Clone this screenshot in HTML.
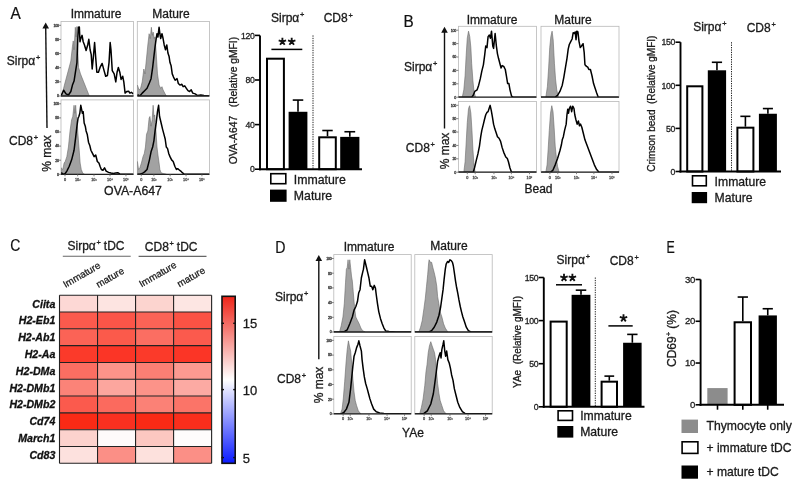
<!DOCTYPE html><html><head><meta charset="utf-8"><style>html,body{margin:0;padding:0;background:#fff;width:800px;height:486px;overflow:hidden}svg{display:block;will-change:transform}text{font-family:"Liberation Sans",sans-serif}</style></head><body><svg width="800" height="486" viewBox="0 0 800 486"><rect width="800" height="486" fill="#fff"/><text transform="translate(10.5,18.9) scale(0.92,1)" font-size="16.8" fill="#111" stroke="#111" stroke-width="0.2">A</text>
<text x="96" y="17.5" font-size="12" text-anchor="middle" font-weight="normal" font-style="normal" fill="#1a1a1a" stroke="#1a1a1a" stroke-width="0.3" >Immature</text>
<text x="171" y="17.8" font-size="12" text-anchor="middle" font-weight="normal" font-style="normal" fill="#1a1a1a" stroke="#1a1a1a" stroke-width="0.3" >Mature</text>
<text x="6.8" y="64.9" font-size="12" text-anchor="start" fill="#1a1a1a" stroke="#1a1a1a" stroke-width="0.3">Sirpα<tspan font-size="7.4" dx="0.8" dy="-4.8">+</tspan></text>
<text x="9" y="145.2" font-size="12" text-anchor="start" fill="#1a1a1a" stroke="#1a1a1a" stroke-width="0.3">CD8<tspan font-size="7.4" dx="0.8" dy="-4.8">+</tspan></text>
<line x1="45.7" y1="27.6" x2="47.0" y2="128" stroke="#111" stroke-width="1.4"/>
<polygon points="45.7,22.6 42.400000000000006,28.6 49.0,28.6" fill="#111"/>
<text transform="translate(51.3,153.5) rotate(-90)" font-size="12" text-anchor="middle" fill="#1a1a1a" stroke="#1a1a1a" stroke-width="0.3">% max</text>
<rect x="61.0" y="21.4" width="72.5" height="74.6" fill="#fff" stroke="#b8b8b8" stroke-width="0.8"/>
<clipPath id="cA11"><rect x="61.0" y="21.4" width="72.5" height="74.6"/></clipPath>
<g clip-path="url(#cA11)">
<polygon points="61.21,96.0 61.21,96.00 62.82,91.51 64.42,85.09 67.63,73.05 70.84,61.01 72.45,46.56 73.25,40.94 74.05,49.77 75.34,27.30 76.14,36.93 76.94,26.50 77.74,49.77 78.55,67.43 80.47,73.85 83.68,81.87 86.89,89.90 89.30,96.00 89.30,96.0" fill="#a2a2a2" stroke="#6a6a6a" stroke-width="0.6"/>
<polyline points="61.21,95.52 63.62,90.22 66.03,93.91 68.43,95.04 70.84,91.51 72.45,85.09 74.05,81.07 75.66,70.64 76.94,62.61 77.74,40.14 78.39,27.30 79.35,26.98 79.99,41.75 80.79,38.54 82.08,35.33 83.20,41.75 84.48,44.96 86.09,50.57 87.70,44.96 88.82,39.34 90.10,49.77 91.23,54.59 92.19,69.03 93.31,57.80 94.60,42.55 95.72,57.80 96.84,72.24 98.45,72.24 100.05,67.43 102.14,63.42 104.07,70.64 105.67,76.26 107.44,75.45 109.04,62.61 110.17,42.55 110.97,49.77 112.25,70.64 114.18,73.85 115.78,81.87 117.07,72.24 118.35,67.43 119.80,72.24 121.08,79.47 122.69,76.26 123.81,81.87 125.09,93.11 126.70,91.51 128.63,91.18 129.91,93.11 131.35,92.31 133.12,93.91" fill="none" stroke="#000" stroke-width="1.5" stroke-linejoin="round"/>
</g>
<line x1="61.0" y1="96.0" x2="133.5" y2="96.0" stroke="#222" stroke-width="1.3"/>
<line x1="59.0" y1="96.00" x2="61.0" y2="96.00" stroke="#666" stroke-width="0.8"/>
<text x="58.7" y="97.3" font-size="3.6" text-anchor="end" font-weight="normal" font-style="normal" fill="#444" stroke="#444" stroke-width="0.3" letter-spacing="-0.25">0</text>
<line x1="59.0" y1="81.86" x2="61.0" y2="81.86" stroke="#666" stroke-width="0.8"/>
<text x="58.7" y="83.16" font-size="3.6" text-anchor="end" font-weight="normal" font-style="normal" fill="#444" stroke="#444" stroke-width="0.3" letter-spacing="-0.25">20</text>
<line x1="59.0" y1="67.72" x2="61.0" y2="67.72" stroke="#666" stroke-width="0.8"/>
<text x="58.7" y="69.02" font-size="3.6" text-anchor="end" font-weight="normal" font-style="normal" fill="#444" stroke="#444" stroke-width="0.3" letter-spacing="-0.25">40</text>
<line x1="59.0" y1="53.58" x2="61.0" y2="53.58" stroke="#666" stroke-width="0.8"/>
<text x="58.7" y="54.879999999999995" font-size="3.6" text-anchor="end" font-weight="normal" font-style="normal" fill="#444" stroke="#444" stroke-width="0.3" letter-spacing="-0.25">60</text>
<line x1="59.0" y1="39.44" x2="61.0" y2="39.44" stroke="#666" stroke-width="0.8"/>
<text x="58.7" y="40.739999999999995" font-size="3.6" text-anchor="end" font-weight="normal" font-style="normal" fill="#444" stroke="#444" stroke-width="0.3" letter-spacing="-0.25">80</text>
<line x1="59.0" y1="25.30" x2="61.0" y2="25.30" stroke="#666" stroke-width="0.8"/>
<text x="58.7" y="26.599999999999998" font-size="3.6" text-anchor="end" font-weight="normal" font-style="normal" fill="#444" stroke="#444" stroke-width="0.3" letter-spacing="-0.25">100</text>
<rect x="137.3" y="21.4" width="72.1" height="74.6" fill="#fff" stroke="#b8b8b8" stroke-width="0.8"/>
<clipPath id="cA12"><rect x="137.3" y="21.4" width="72.1" height="74.6"/></clipPath>
<g clip-path="url(#cA12)">
<polygon points="137.41,96.0 137.41,85.09 139.01,89.90 140.62,88.30 142.22,81.87 143.83,69.03 144.95,73.85 146.24,61.01 147.84,44.96 149.13,33.72 150.25,38.54 151.37,27.30 152.34,35.33 153.14,32.12 154.26,38.54 155.06,36.93 156.19,52.98 157.47,73.85 159.08,85.09 160.68,88.30 161.97,86.69 163.09,89.90 164.70,93.11 166.30,96.00 166.30,96.0" fill="#a2a2a2" stroke="#6a6a6a" stroke-width="0.6"/>
<polyline points="137.41,94.72 139.82,96.00 142.22,93.11 144.63,90.70 147.04,88.30 149.45,82.68 151.05,78.66 152.66,67.43 153.94,56.19 155.06,46.56 156.19,38.54 156.99,33.72 157.95,36.93 159.08,27.30 159.88,33.72 160.68,38.54 161.97,33.72 163.09,38.54 164.21,44.96 165.50,49.77 166.78,44.96 167.91,52.98 169.03,56.19 169.99,62.61 171.12,65.82 172.24,73.85 173.52,77.06 175.13,80.27 177.05,78.66 178.34,83.48 179.94,85.09 181.87,84.28 183.15,86.69 184.76,85.89 186.36,88.30 187.97,90.70 189.57,91.51 191.18,89.90 192.78,93.11 195.19,93.91 197.60,95.52 200.81,95.04 204.02,95.52 209.32,96.00" fill="none" stroke="#000" stroke-width="1.5" stroke-linejoin="round"/>
</g>
<line x1="137.3" y1="96.0" x2="209.4" y2="96.0" stroke="#222" stroke-width="1.3"/>
<rect x="61.0" y="99.9" width="72.5" height="74.4" fill="#fff" stroke="#b8b8b8" stroke-width="0.8"/>
<clipPath id="cA21"><rect x="61.0" y="99.9" width="72.5" height="74.4"/></clipPath>
<g clip-path="url(#cA21)">
<polygon points="61.21,174.3 61.21,167.88 62.82,169.48 64.10,163.06 65.22,161.46 66.83,156.64 68.43,147.01 70.04,130.96 71.64,119.73 72.77,116.52 74.05,105.28 74.85,113.30 75.66,105.28 76.46,116.52 77.26,124.54 78.06,135.78 79.19,150.22 80.15,163.06 81.27,169.48 82.88,173.50 84.48,174.30 84.48,174.3" fill="#a2a2a2" stroke="#6a6a6a" stroke-width="0.6"/>
<polyline points="61.21,172.69 63.62,174.30 65.22,173.50 66.83,171.09 69.24,166.27 71.64,159.85 74.05,150.22 75.66,137.38 76.94,126.15 78.06,118.12 78.87,116.52 79.83,113.30 80.79,105.28 81.76,110.09 82.40,113.30 83.20,111.70 84.16,122.94 85.29,126.15 86.09,130.96 87.21,134.17 88.50,142.20 89.78,145.41 90.91,150.22 92.51,153.43 94.12,156.64 95.72,155.04 97.33,161.46 98.93,163.06 100.05,166.27 101.34,169.48 102.94,170.29 104.55,167.88 106.15,171.09 108.56,172.37 110.97,173.02 113.38,173.50 115.78,173.02 117.71,172.69 119.80,173.98 125.42,174.30 133.44,174.30" fill="none" stroke="#000" stroke-width="1.5" stroke-linejoin="round"/>
</g>
<line x1="61.0" y1="174.3" x2="133.5" y2="174.3" stroke="#222" stroke-width="1.3"/>
<line x1="59.0" y1="174.30" x2="61.0" y2="174.30" stroke="#666" stroke-width="0.8"/>
<text x="58.7" y="175.60000000000002" font-size="3.6" text-anchor="end" font-weight="normal" font-style="normal" fill="#444" stroke="#444" stroke-width="0.3" letter-spacing="-0.25">0</text>
<line x1="59.0" y1="160.20" x2="61.0" y2="160.20" stroke="#666" stroke-width="0.8"/>
<text x="58.7" y="161.50000000000003" font-size="3.6" text-anchor="end" font-weight="normal" font-style="normal" fill="#444" stroke="#444" stroke-width="0.3" letter-spacing="-0.25">20</text>
<line x1="59.0" y1="146.10" x2="61.0" y2="146.10" stroke="#666" stroke-width="0.8"/>
<text x="58.7" y="147.40000000000003" font-size="3.6" text-anchor="end" font-weight="normal" font-style="normal" fill="#444" stroke="#444" stroke-width="0.3" letter-spacing="-0.25">40</text>
<line x1="59.0" y1="132.00" x2="61.0" y2="132.00" stroke="#666" stroke-width="0.8"/>
<text x="58.7" y="133.3" font-size="3.6" text-anchor="end" font-weight="normal" font-style="normal" fill="#444" stroke="#444" stroke-width="0.3" letter-spacing="-0.25">60</text>
<line x1="59.0" y1="117.90" x2="61.0" y2="117.90" stroke="#666" stroke-width="0.8"/>
<text x="58.7" y="119.2" font-size="3.6" text-anchor="end" font-weight="normal" font-style="normal" fill="#444" stroke="#444" stroke-width="0.3" letter-spacing="-0.25">80</text>
<line x1="59.0" y1="103.80" x2="61.0" y2="103.80" stroke="#666" stroke-width="0.8"/>
<text x="58.7" y="105.10000000000001" font-size="3.6" text-anchor="end" font-weight="normal" font-style="normal" fill="#444" stroke="#444" stroke-width="0.3" letter-spacing="-0.25">100</text>
<line x1="64.99" y1="174.3" x2="64.99" y2="176.3" stroke="#666" stroke-width="0.8"/>
<text x="64.9875" y="180.8" font-size="3.8" text-anchor="middle" font-weight="normal" font-style="normal" fill="#555" stroke="#555" stroke-width="0.3" >0</text>
<line x1="77.67" y1="174.3" x2="77.67" y2="176.3" stroke="#666" stroke-width="0.8"/>
<text x="77.675" y="180.8" font-size="3.8" text-anchor="middle" font-weight="normal" font-style="normal" fill="#555" stroke="#555" stroke-width="0.3" >10²</text>
<line x1="93.99" y1="174.3" x2="93.99" y2="176.3" stroke="#666" stroke-width="0.8"/>
<text x="93.98750000000001" y="180.8" font-size="3.8" text-anchor="middle" font-weight="normal" font-style="normal" fill="#555" stroke="#555" stroke-width="0.3" >10³</text>
<line x1="110.01" y1="174.3" x2="110.01" y2="176.3" stroke="#666" stroke-width="0.8"/>
<text x="110.01" y="180.8" font-size="3.8" text-anchor="middle" font-weight="normal" font-style="normal" fill="#555" stroke="#555" stroke-width="0.3" >10⁴</text>
<line x1="125.96" y1="174.3" x2="125.96" y2="176.3" stroke="#666" stroke-width="0.8"/>
<text x="125.96000000000001" y="180.8" font-size="3.8" text-anchor="middle" font-weight="normal" font-style="normal" fill="#555" stroke="#555" stroke-width="0.3" >10⁵</text>
<rect x="137.3" y="99.9" width="72.1" height="74.4" fill="#fff" stroke="#b8b8b8" stroke-width="0.8"/>
<clipPath id="cA22"><rect x="137.3" y="99.9" width="72.1" height="74.4"/></clipPath>
<g clip-path="url(#cA22)">
<polygon points="137.41,174.3 137.41,161.46 138.53,169.48 139.82,167.88 141.42,163.06 143.03,156.64 144.31,153.43 145.43,147.01 146.56,134.17 147.84,130.96 149.13,118.12 149.93,116.52 151.05,126.15 152.17,119.73 153.14,105.28 153.94,116.52 154.74,114.91 155.87,129.36 156.99,147.01 157.95,155.04 159.08,163.06 159.88,169.48 161.00,172.69 163.09,173.50 166.30,174.30 166.30,174.3" fill="#a2a2a2" stroke="#6a6a6a" stroke-width="0.6"/>
<polyline points="137.41,174.30 139.82,174.30 142.22,173.50 144.63,171.89 147.04,169.48 149.45,159.85 151.05,151.83 152.66,147.01 153.94,140.59 155.06,130.96 156.19,122.94 157.47,111.70 158.60,105.28 159.56,116.52 160.36,119.73 161.48,124.54 162.61,129.36 163.89,134.17 165.18,138.99 166.30,147.01 167.58,148.62 168.71,153.43 169.99,156.64 171.60,159.85 173.20,161.46 174.81,166.27 176.41,169.48 177.54,168.68 178.66,169.48 180.75,171.09 182.35,172.69 183.96,173.98 187.97,174.30 209.32,174.30" fill="none" stroke="#000" stroke-width="1.5" stroke-linejoin="round"/>
</g>
<line x1="137.3" y1="174.3" x2="209.4" y2="174.3" stroke="#222" stroke-width="1.3"/>
<line x1="141.27" y1="174.3" x2="141.27" y2="176.3" stroke="#666" stroke-width="0.8"/>
<text x="141.2655" y="180.8" font-size="3.8" text-anchor="middle" font-weight="normal" font-style="normal" fill="#555" stroke="#555" stroke-width="0.3" >0</text>
<line x1="153.88" y1="174.3" x2="153.88" y2="176.3" stroke="#666" stroke-width="0.8"/>
<text x="153.883" y="180.8" font-size="3.8" text-anchor="middle" font-weight="normal" font-style="normal" fill="#555" stroke="#555" stroke-width="0.3" >10²</text>
<line x1="170.11" y1="174.3" x2="170.11" y2="176.3" stroke="#666" stroke-width="0.8"/>
<text x="170.1055" y="180.8" font-size="3.8" text-anchor="middle" font-weight="normal" font-style="normal" fill="#555" stroke="#555" stroke-width="0.3" >10³</text>
<line x1="186.04" y1="174.3" x2="186.04" y2="176.3" stroke="#666" stroke-width="0.8"/>
<text x="186.0396" y="180.8" font-size="3.8" text-anchor="middle" font-weight="normal" font-style="normal" fill="#555" stroke="#555" stroke-width="0.3" >10⁴</text>
<line x1="201.90" y1="174.3" x2="201.90" y2="176.3" stroke="#666" stroke-width="0.8"/>
<text x="201.9016" y="180.8" font-size="3.8" text-anchor="middle" font-weight="normal" font-style="normal" fill="#555" stroke="#555" stroke-width="0.3" >10⁵</text>
<text x="133" y="195.3" font-size="12.3" text-anchor="middle" font-weight="normal" font-style="normal" fill="#1a1a1a" stroke="#1a1a1a" stroke-width="0.3" >OVA-A647</text>
<rect x="267.00" y="58.70" width="16.90" height="110.50" fill="#fff" stroke="#000" stroke-width="2.0"/>
<line x1="298.0" y1="111.7775" x2="298.0" y2="100.07" stroke="#000" stroke-width="1.6"/>
<line x1="292.74" y1="100.07" x2="303.26" y2="100.07" stroke="#000" stroke-width="1.6"/>
<rect x="288.6" y="111.78" width="18.80" height="57.42" fill="#000"/>
<line x1="327.5" y1="136.3075" x2="327.5" y2="130.51" stroke="#000" stroke-width="1.6"/>
<line x1="322.29" y1="130.51" x2="332.71" y2="130.51" stroke="#000" stroke-width="1.6"/>
<rect x="319.20" y="137.31" width="16.60" height="31.89" fill="#fff" stroke="#000" stroke-width="2.0"/>
<line x1="349.8" y1="136.865" x2="349.8" y2="131.74" stroke="#000" stroke-width="1.6"/>
<line x1="344.42" y1="131.74" x2="355.18" y2="131.74" stroke="#000" stroke-width="1.6"/>
<rect x="340.20000000000005" y="136.87" width="19.20" height="32.33" fill="#000"/>
<line x1="313" y1="35.400000000000006" x2="313" y2="169.2" stroke="#222" stroke-width="1.0" stroke-dasharray="1.3,1.1"/>
<line x1="260" y1="35.40" x2="260" y2="170.2" stroke="#000" stroke-width="1.9"/>
<line x1="259" y1="169.2" x2="362" y2="169.2" stroke="#000" stroke-width="1.9"/>
<line x1="255" y1="169.20" x2="260" y2="169.20" stroke="#000" stroke-width="1.6"/>
<text x="254.5" y="172.39999999999998" font-size="8.7" text-anchor="end" font-weight="normal" font-style="normal" fill="#222" stroke="#222" stroke-width="0.3" letter-spacing="-0.3">0</text>
<line x1="255" y1="124.60" x2="260" y2="124.60" stroke="#000" stroke-width="1.6"/>
<text x="254.5" y="127.8" font-size="8.7" text-anchor="end" font-weight="normal" font-style="normal" fill="#222" stroke="#222" stroke-width="0.3" letter-spacing="-0.3">40</text>
<line x1="255" y1="80.00" x2="260" y2="80.00" stroke="#000" stroke-width="1.6"/>
<text x="254.5" y="83.2" font-size="8.7" text-anchor="end" font-weight="normal" font-style="normal" fill="#222" stroke="#222" stroke-width="0.3" letter-spacing="-0.3">80</text>
<line x1="255" y1="35.40" x2="260" y2="35.40" stroke="#000" stroke-width="1.6"/>
<text x="254.5" y="38.60000000000001" font-size="8.7" text-anchor="end" font-weight="normal" font-style="normal" fill="#222" stroke="#222" stroke-width="0.3" letter-spacing="-0.3">120</text>
<text transform="translate(236.6,164.3) rotate(-90)" font-size="10.3" text-anchor="start" fill="#1a1a1a" stroke="#1a1a1a" stroke-width="0.3">OVA-A647&#160;&#160;&#160;(Relative gMFI)</text>
<text x="271" y="21.6" font-size="12" text-anchor="start" fill="#1a1a1a" stroke="#1a1a1a" stroke-width="0.3">Sirpα<tspan font-size="7.4" dx="0.8" dy="-4.8">+</tspan></text>
<text x="323.7" y="22.3" font-size="12" text-anchor="start" fill="#1a1a1a" stroke="#1a1a1a" stroke-width="0.3">CD8<tspan font-size="7.4" dx="0.8" dy="-4.8">+</tspan></text>
<path d="M282.40,41.60L282.40,37.70M282.40,41.60L286.11,40.39M282.40,41.60L284.69,44.76M282.40,41.60L280.11,44.76M282.40,41.60L278.69,40.39" stroke="#111" stroke-width="1.85" stroke-linecap="butt" fill="none"/>
<path d="M291.70,41.60L291.70,37.70M291.70,41.60L295.41,40.39M291.70,41.60L293.99,44.76M291.70,41.60L289.41,44.76M291.70,41.60L287.99,40.39" stroke="#111" stroke-width="1.85" stroke-linecap="butt" fill="none"/>
<line x1="271.4" y1="49.4" x2="302.3" y2="49.4" stroke="#000" stroke-width="1.5"/>
<rect x="270.8" y="173.70000000000002" width="15.000000000000002" height="10.0" fill="#fff" stroke="#000" stroke-width="1.6"/>
<text x="293.8" y="183.5" font-size="12.3" text-anchor="start" font-weight="normal" font-style="normal" fill="#1a1a1a" stroke="#1a1a1a" stroke-width="0.3" >Immature</text>
<rect x="270.0" y="189.6" width="16.6" height="12.2" fill="black"/>
<text x="293.8" y="200.2" font-size="12.3" text-anchor="start" font-weight="normal" font-style="normal" fill="#1a1a1a" stroke="#1a1a1a" stroke-width="0.3" >Mature</text>
<text transform="translate(403.6,26.8) scale(0.94,1)" font-size="16.3" fill="#111" stroke="#111" stroke-width="0.2">B</text>
<text x="492" y="24.3" font-size="12" text-anchor="middle" font-weight="normal" font-style="normal" fill="#1a1a1a" stroke="#1a1a1a" stroke-width="0.3" >Immature</text>
<text x="573" y="24" font-size="12" text-anchor="middle" font-weight="normal" font-style="normal" fill="#1a1a1a" stroke="#1a1a1a" stroke-width="0.3" >Mature</text>
<text x="404" y="70.5" font-size="12" text-anchor="start" fill="#1a1a1a" stroke="#1a1a1a" stroke-width="0.3">Sirpα<tspan font-size="7.4" dx="0.8" dy="-4.8">+</tspan></text>
<text x="405.8" y="151.5" font-size="12" text-anchor="start" fill="#1a1a1a" stroke="#1a1a1a" stroke-width="0.3">CD8<tspan font-size="7.4" dx="0.8" dy="-4.8">+</tspan></text>
<line x1="444.5" y1="31.7" x2="444.5" y2="128.5" stroke="#111" stroke-width="1.4"/>
<polygon points="444.5,26.7 441.2,32.7 447.8,32.7" fill="#111"/>
<text transform="translate(449,151) rotate(-90)" font-size="12" text-anchor="middle" fill="#1a1a1a" stroke="#1a1a1a" stroke-width="0.3">% max</text>
<rect x="458.4" y="26.3" width="78.10000000000002" height="70.9" fill="#fff" stroke="#b8b8b8" stroke-width="0.8"/>
<clipPath id="cB11"><rect x="458.4" y="26.3" width="78.10000000000002" height="70.9"/></clipPath>
<g clip-path="url(#cB11)">
<polygon points="462.26,97.2 462.26,97.20 463.82,89.84 465.08,75.76 466.17,55.42 467.27,38.20 468.52,31.16 469.77,36.64 470.87,47.59 471.65,63.24 472.90,80.46 474.00,91.41 475.56,97.20 475.56,97.2" fill="#a2a2a2" stroke="#6a6a6a" stroke-width="0.6"/>
<polyline points="458.40,97.20 471.65,97.20 473.21,95.32 474.78,91.41 477.13,89.84 478.69,85.15 480.26,78.89 481.82,71.07 483.39,64.81 484.64,55.42 485.73,46.03 486.99,47.59 488.08,36.64 489.33,35.07 490.43,38.20 491.52,31.16 492.78,46.03 493.56,48.37 495.12,33.51 496.38,46.03 497.47,53.85 498.57,58.55 499.82,63.24 501.07,67.94 502.17,65.59 503.73,66.37 505.30,69.50 506.39,75.76 507.64,83.58 508.90,83.58 509.99,89.84 511.56,96.10 513.12,97.20 536.13,97.20" fill="none" stroke="#000" stroke-width="1.5" stroke-linejoin="round"/>
</g>
<line x1="458.4" y1="97.2" x2="536.5" y2="97.2" stroke="#222" stroke-width="1.3"/>
<line x1="456.4" y1="97.20" x2="458.4" y2="97.20" stroke="#666" stroke-width="0.8"/>
<text x="456.09999999999997" y="98.5" font-size="3.6" text-anchor="end" font-weight="normal" font-style="normal" fill="#444" stroke="#444" stroke-width="0.3" letter-spacing="-0.25">0</text>
<line x1="456.4" y1="83.80" x2="458.4" y2="83.80" stroke="#666" stroke-width="0.8"/>
<text x="456.09999999999997" y="85.1" font-size="3.6" text-anchor="end" font-weight="normal" font-style="normal" fill="#444" stroke="#444" stroke-width="0.3" letter-spacing="-0.25">20</text>
<line x1="456.4" y1="70.40" x2="458.4" y2="70.40" stroke="#666" stroke-width="0.8"/>
<text x="456.09999999999997" y="71.7" font-size="3.6" text-anchor="end" font-weight="normal" font-style="normal" fill="#444" stroke="#444" stroke-width="0.3" letter-spacing="-0.25">40</text>
<line x1="456.4" y1="57.00" x2="458.4" y2="57.00" stroke="#666" stroke-width="0.8"/>
<text x="456.09999999999997" y="58.300000000000004" font-size="3.6" text-anchor="end" font-weight="normal" font-style="normal" fill="#444" stroke="#444" stroke-width="0.3" letter-spacing="-0.25">60</text>
<line x1="456.4" y1="43.60" x2="458.4" y2="43.60" stroke="#666" stroke-width="0.8"/>
<text x="456.09999999999997" y="44.9" font-size="3.6" text-anchor="end" font-weight="normal" font-style="normal" fill="#444" stroke="#444" stroke-width="0.3" letter-spacing="-0.25">80</text>
<line x1="456.4" y1="30.20" x2="458.4" y2="30.20" stroke="#666" stroke-width="0.8"/>
<text x="456.09999999999997" y="31.500000000000004" font-size="3.6" text-anchor="end" font-weight="normal" font-style="normal" fill="#444" stroke="#444" stroke-width="0.3" letter-spacing="-0.25">100</text>
<rect x="541.0" y="26.3" width="78.0" height="70.9" fill="#fff" stroke="#b8b8b8" stroke-width="0.8"/>
<clipPath id="cB12"><rect x="541.0" y="26.3" width="78.0" height="70.9"/></clipPath>
<g clip-path="url(#cB12)">
<polygon points="545.82,97.2 545.82,97.20 547.39,86.71 548.64,67.94 549.74,47.59 550.83,36.64 552.08,31.16 553.18,39.77 554.43,63.24 555.53,78.89 556.78,89.84 558.34,97.20 558.34,97.2" fill="#a2a2a2" stroke="#6a6a6a" stroke-width="0.6"/>
<polyline points="541.00,97.20 555.21,97.20 557.56,95.32 559.91,91.41 562.26,85.15 563.82,77.33 565.39,67.94 566.95,58.55 568.20,49.16 569.30,44.46 570.86,41.33 572.12,38.98 573.21,32.72 574.31,33.51 575.25,31.94 576.03,39.77 576.81,31.16 577.91,31.94 579.00,41.33 580.25,47.59 581.51,46.03 583.07,43.68 584.17,52.29 584.95,64.81 586.51,66.37 587.77,67.15 588.86,69.50 590.43,69.50 591.99,75.76 593.56,83.58 595.12,88.28 596.69,92.97 598.25,97.20 618.59,97.20" fill="none" stroke="#000" stroke-width="1.5" stroke-linejoin="round"/>
</g>
<line x1="541.0" y1="97.2" x2="619.0" y2="97.2" stroke="#222" stroke-width="1.3"/>
<rect x="458.4" y="101.4" width="78.10000000000002" height="70.79999999999998" fill="#fff" stroke="#b8b8b8" stroke-width="0.8"/>
<clipPath id="cB21"><rect x="458.4" y="101.4" width="78.10000000000002" height="70.79999999999998"/></clipPath>
<g clip-path="url(#cB21)">
<polygon points="463.82,172.2 463.82,172.20 465.08,161.71 466.17,142.94 467.27,122.59 468.52,108.51 469.62,105.69 470.87,113.20 471.96,130.42 472.90,149.20 474.00,164.84 475.09,172.20 475.09,172.2" fill="#a2a2a2" stroke="#6a6a6a" stroke-width="0.6"/>
<polyline points="458.40,172.20 473.21,172.20 474.47,167.97 476.34,160.15 477.91,153.89 479.47,146.07 480.73,136.68 481.82,130.42 483.39,124.16 484.48,119.46 485.73,114.77 486.99,112.42 488.08,111.64 489.33,107.72 490.12,105.38 491.21,110.07 492.31,116.33 493.56,124.16 494.81,128.85 495.91,131.98 497.47,136.68 499.04,138.24 500.60,141.37 502.17,147.63 503.73,152.33 505.77,157.02 507.33,158.58 508.43,161.71 509.99,167.97 511.56,172.20 536.50,172.20" fill="none" stroke="#000" stroke-width="1.5" stroke-linejoin="round"/>
</g>
<line x1="458.4" y1="172.2" x2="536.5" y2="172.2" stroke="#222" stroke-width="1.3"/>
<line x1="456.4" y1="172.20" x2="458.4" y2="172.20" stroke="#666" stroke-width="0.8"/>
<text x="456.09999999999997" y="173.5" font-size="3.6" text-anchor="end" font-weight="normal" font-style="normal" fill="#444" stroke="#444" stroke-width="0.3" letter-spacing="-0.25">0</text>
<line x1="456.4" y1="158.82" x2="458.4" y2="158.82" stroke="#666" stroke-width="0.8"/>
<text x="456.09999999999997" y="160.12" font-size="3.6" text-anchor="end" font-weight="normal" font-style="normal" fill="#444" stroke="#444" stroke-width="0.3" letter-spacing="-0.25">20</text>
<line x1="456.4" y1="145.44" x2="458.4" y2="145.44" stroke="#666" stroke-width="0.8"/>
<text x="456.09999999999997" y="146.74" font-size="3.6" text-anchor="end" font-weight="normal" font-style="normal" fill="#444" stroke="#444" stroke-width="0.3" letter-spacing="-0.25">40</text>
<line x1="456.4" y1="132.06" x2="458.4" y2="132.06" stroke="#666" stroke-width="0.8"/>
<text x="456.09999999999997" y="133.36" font-size="3.6" text-anchor="end" font-weight="normal" font-style="normal" fill="#444" stroke="#444" stroke-width="0.3" letter-spacing="-0.25">60</text>
<line x1="456.4" y1="118.68" x2="458.4" y2="118.68" stroke="#666" stroke-width="0.8"/>
<text x="456.09999999999997" y="119.98" font-size="3.6" text-anchor="end" font-weight="normal" font-style="normal" fill="#444" stroke="#444" stroke-width="0.3" letter-spacing="-0.25">80</text>
<line x1="456.4" y1="105.30" x2="458.4" y2="105.30" stroke="#666" stroke-width="0.8"/>
<text x="456.09999999999997" y="106.60000000000001" font-size="3.6" text-anchor="end" font-weight="normal" font-style="normal" fill="#444" stroke="#444" stroke-width="0.3" letter-spacing="-0.25">100</text>
<line x1="467.30" y1="172.2" x2="467.30" y2="174.2" stroke="#666" stroke-width="0.8"/>
<text x="467.30339999999995" y="178.7" font-size="3.8" text-anchor="middle" font-weight="normal" font-style="normal" fill="#555" stroke="#555" stroke-width="0.3" >0</text>
<line x1="475.19" y1="172.2" x2="475.19" y2="174.2" stroke="#666" stroke-width="0.8"/>
<text x="475.19149999999996" y="178.7" font-size="3.8" text-anchor="middle" font-weight="normal" font-style="normal" fill="#555" stroke="#555" stroke-width="0.3" >10²</text>
<line x1="493.94" y1="172.2" x2="493.94" y2="174.2" stroke="#666" stroke-width="0.8"/>
<text x="493.9355" y="178.7" font-size="3.8" text-anchor="middle" font-weight="normal" font-style="normal" fill="#555" stroke="#555" stroke-width="0.3" >10³</text>
<line x1="511.35" y1="172.2" x2="511.35" y2="174.2" stroke="#666" stroke-width="0.8"/>
<text x="511.3518" y="178.7" font-size="3.8" text-anchor="middle" font-weight="normal" font-style="normal" fill="#555" stroke="#555" stroke-width="0.3" >10⁴</text>
<line x1="529.47" y1="172.2" x2="529.47" y2="174.2" stroke="#666" stroke-width="0.8"/>
<text x="529.471" y="178.7" font-size="3.8" text-anchor="middle" font-weight="normal" font-style="normal" fill="#555" stroke="#555" stroke-width="0.3" >10⁵</text>
<rect x="541.0" y="101.4" width="78.0" height="70.79999999999998" fill="#fff" stroke="#b8b8b8" stroke-width="0.8"/>
<clipPath id="cB22"><rect x="541.0" y="101.4" width="78.0" height="70.79999999999998"/></clipPath>
<g clip-path="url(#cB22)">
<polygon points="545.82,172.2 545.82,172.20 547.08,164.84 548.17,149.20 549.27,130.42 550.52,113.20 551.77,105.69 553.02,111.64 554.12,127.29 555.21,146.07 556.47,158.58 557.56,166.41 559.13,172.20 559.13,172.2" fill="#a2a2a2" stroke="#6a6a6a" stroke-width="0.6"/>
<polyline points="541.44,172.20 550.52,172.20 552.87,170.32 555.21,164.84 557.56,158.58 559.91,150.76 561.47,144.50 562.26,139.81 563.35,136.68 564.60,130.42 566.17,124.16 566.95,114.77 567.73,109.29 568.52,113.20 569.30,108.51 570.55,106.16 571.65,111.64 572.74,106.16 573.99,108.51 574.78,114.77 575.87,119.46 577.12,124.16 578.38,121.03 579.47,125.72 580.57,124.16 581.82,127.29 583.38,133.55 584.95,139.81 587.30,146.07 589.64,152.33 591.99,158.58 594.34,164.84 596.69,169.54 599.03,172.20 619.00,172.20" fill="none" stroke="#000" stroke-width="1.5" stroke-linejoin="round"/>
</g>
<line x1="541.0" y1="172.2" x2="619.0" y2="172.2" stroke="#222" stroke-width="1.3"/>
<line x1="549.89" y1="172.2" x2="549.89" y2="174.2" stroke="#666" stroke-width="0.8"/>
<text x="549.892" y="178.7" font-size="3.8" text-anchor="middle" font-weight="normal" font-style="normal" fill="#555" stroke="#555" stroke-width="0.3" >0</text>
<line x1="557.77" y1="172.2" x2="557.77" y2="174.2" stroke="#666" stroke-width="0.8"/>
<text x="557.77" y="178.7" font-size="3.8" text-anchor="middle" font-weight="normal" font-style="normal" fill="#555" stroke="#555" stroke-width="0.3" >10²</text>
<line x1="576.49" y1="172.2" x2="576.49" y2="174.2" stroke="#666" stroke-width="0.8"/>
<text x="576.49" y="178.7" font-size="3.8" text-anchor="middle" font-weight="normal" font-style="normal" fill="#555" stroke="#555" stroke-width="0.3" >10³</text>
<line x1="593.88" y1="172.2" x2="593.88" y2="174.2" stroke="#666" stroke-width="0.8"/>
<text x="593.884" y="178.7" font-size="3.8" text-anchor="middle" font-weight="normal" font-style="normal" fill="#555" stroke="#555" stroke-width="0.3" >10⁴</text>
<line x1="611.98" y1="172.2" x2="611.98" y2="174.2" stroke="#666" stroke-width="0.8"/>
<text x="611.98" y="178.7" font-size="3.8" text-anchor="middle" font-weight="normal" font-style="normal" fill="#555" stroke="#555" stroke-width="0.3" >10⁵</text>
<text x="538.5" y="192.5" font-size="12" text-anchor="middle" font-weight="normal" font-style="normal" fill="#1a1a1a" stroke="#1a1a1a" stroke-width="0.3" >Bead</text>
<rect x="687.20" y="86.30" width="15.20" height="85.20" fill="#fff" stroke="#000" stroke-width="2.0"/>
<line x1="716.95" y1="70.30119999999998" x2="716.95" y2="62.28" stroke="#000" stroke-width="1.6"/>
<line x1="711.83" y1="62.28" x2="722.07" y2="62.28" stroke="#000" stroke-width="1.6"/>
<rect x="707.8000000000001" y="70.30" width="18.30" height="101.20" fill="#000"/>
<line x1="745.4" y1="126.67599999999999" x2="745.4" y2="116.33" stroke="#000" stroke-width="1.6"/>
<line x1="740.36" y1="116.33" x2="750.44" y2="116.33" stroke="#000" stroke-width="1.6"/>
<rect x="737.40" y="127.68" width="16.00" height="43.82" fill="#fff" stroke="#000" stroke-width="2.0"/>
<line x1="767.9" y1="113.746" x2="767.9" y2="108.57" stroke="#000" stroke-width="1.6"/>
<line x1="762.86" y1="108.57" x2="772.94" y2="108.57" stroke="#000" stroke-width="1.6"/>
<rect x="758.9" y="113.75" width="18.00" height="57.75" fill="#000"/>
<line x1="731.5" y1="42.19999999999999" x2="731.5" y2="171.5" stroke="#222" stroke-width="1.0" stroke-dasharray="1.3,1.1"/>
<line x1="680.5" y1="42.20" x2="680.5" y2="172.5" stroke="#000" stroke-width="1.9"/>
<line x1="679.5" y1="171.5" x2="781" y2="171.5" stroke="#000" stroke-width="1.9"/>
<line x1="675.5" y1="171.50" x2="680.5" y2="171.50" stroke="#000" stroke-width="1.6"/>
<text x="675.0" y="174.7" font-size="8.7" text-anchor="end" font-weight="normal" font-style="normal" fill="#222" stroke="#222" stroke-width="0.3" letter-spacing="-0.3">0</text>
<line x1="675.5" y1="128.40" x2="680.5" y2="128.40" stroke="#000" stroke-width="1.6"/>
<text x="675.0" y="131.59999999999997" font-size="8.7" text-anchor="end" font-weight="normal" font-style="normal" fill="#222" stroke="#222" stroke-width="0.3" letter-spacing="-0.3">50</text>
<line x1="675.5" y1="85.30" x2="680.5" y2="85.30" stroke="#000" stroke-width="1.6"/>
<text x="675.0" y="88.49999999999999" font-size="8.7" text-anchor="end" font-weight="normal" font-style="normal" fill="#222" stroke="#222" stroke-width="0.3" letter-spacing="-0.3">100</text>
<line x1="675.5" y1="42.20" x2="680.5" y2="42.20" stroke="#000" stroke-width="1.6"/>
<text x="675.0" y="45.39999999999999" font-size="8.7" text-anchor="end" font-weight="normal" font-style="normal" fill="#222" stroke="#222" stroke-width="0.3" letter-spacing="-0.3">150</text>
<text transform="translate(655.2,171.8) rotate(-90)" font-size="10" text-anchor="start" fill="#1a1a1a" stroke="#1a1a1a" stroke-width="0.3">Crimson bead&#160;&#160;(Relative gMFI)</text>
<text x="693.2" y="30.9" font-size="12" text-anchor="start" fill="#1a1a1a" stroke="#1a1a1a" stroke-width="0.3">Sirpα<tspan font-size="7.4" dx="0.8" dy="-4.8">+</tspan></text>
<text x="746.7" y="31.9" font-size="12" text-anchor="start" fill="#1a1a1a" stroke="#1a1a1a" stroke-width="0.3">CD8<tspan font-size="7.4" dx="0.8" dy="-4.8">+</tspan></text>
<rect x="692.5" y="175.8" width="13.8" height="10.0" fill="#fff" stroke="#000" stroke-width="1.6"/>
<text x="714.6" y="185.8" font-size="12.2" text-anchor="start" font-weight="normal" font-style="normal" fill="#1a1a1a" stroke="#1a1a1a" stroke-width="0.3" >Immature</text>
<rect x="691.7" y="192.0" width="15.4" height="11.2" fill="black"/>
<text x="714.6" y="201.6" font-size="12.2" text-anchor="start" font-weight="normal" font-style="normal" fill="#1a1a1a" stroke="#1a1a1a" stroke-width="0.3" >Mature</text>
<text transform="translate(10.3,251) scale(0.85,1)" font-size="16.5" fill="#111" stroke="#111" stroke-width="0.2">C</text>
<text x="67.5" y="250.2" font-size="12" text-anchor="start" fill="#1a1a1a" stroke="#1a1a1a" stroke-width="0.3">Sirpα<tspan font-size="7.4" dx="0.8" dy="-4.8">+</tspan></text>
<text x="124.5" y="250.2" font-size="12" text-anchor="end" fill="#1a1a1a" stroke="#1a1a1a" stroke-width="0.3">tDC</text>
<line x1="62.8" y1="256.2" x2="130.7" y2="256.2" stroke="#666" stroke-width="1.1"/>
<text x="144.8" y="250.5" font-size="12" text-anchor="start" fill="#1a1a1a" stroke="#1a1a1a" stroke-width="0.3">CD8<tspan font-size="7.4" dx="0.8" dy="-4.8">+</tspan></text>
<text x="197.5" y="250.5" font-size="12" text-anchor="end" fill="#1a1a1a" stroke="#1a1a1a" stroke-width="0.3">tDC</text>
<line x1="138.6" y1="256.4" x2="206.5" y2="256.4" stroke="#666" stroke-width="1.1"/>
<text transform="translate(65.5,288) rotate(-30)" font-size="9.8" fill="#1a1a1a" stroke="#1a1a1a" stroke-width="0.25">Immature</text>
<text transform="translate(98.5,288) rotate(-30)" font-size="9.8" fill="#1a1a1a" stroke="#1a1a1a" stroke-width="0.25">mature</text>
<text transform="translate(141.5,287.5) rotate(-30)" font-size="9.8" fill="#1a1a1a" stroke="#1a1a1a" stroke-width="0.25">Immature</text>
<text transform="translate(179.5,287.5) rotate(-30)" font-size="9.8" fill="#1a1a1a" stroke="#1a1a1a" stroke-width="0.25">mature</text>
<rect x="59.50" y="295.20" width="38.03" height="16.81" fill="#fdd8d5"/>
<rect x="97.53" y="295.20" width="38.03" height="16.81" fill="#fde4e1"/>
<rect x="135.56" y="295.20" width="38.03" height="16.81" fill="#fcd4cf"/>
<rect x="173.59" y="295.20" width="38.03" height="16.81" fill="#fde6e3"/>
<text x="55.3" y="307.5" font-size="10.6" text-anchor="end" font-weight="bold" font-style="italic" fill="#111" stroke="#111" stroke-width="0.3" >Ciita</text>
<rect x="59.50" y="312.01" width="38.03" height="16.81" fill="#fb5a4d"/>
<rect x="97.53" y="312.01" width="38.03" height="16.81" fill="#fb5548"/>
<rect x="135.56" y="312.01" width="38.03" height="16.81" fill="#fb6356"/>
<rect x="173.59" y="312.01" width="38.03" height="16.81" fill="#fb5244"/>
<text x="55.3" y="324.31" font-size="10.6" text-anchor="end" font-weight="bold" font-style="italic" fill="#111" stroke="#111" stroke-width="0.3" >H2-Eb1</text>
<rect x="59.50" y="328.82" width="38.03" height="16.81" fill="#fb6356"/>
<rect x="97.53" y="328.82" width="38.03" height="16.81" fill="#fb5a4b"/>
<rect x="135.56" y="328.82" width="38.03" height="16.81" fill="#fb6e62"/>
<rect x="173.59" y="328.82" width="38.03" height="16.81" fill="#fb5a4d"/>
<text x="55.3" y="341.12" font-size="10.6" text-anchor="end" font-weight="bold" font-style="italic" fill="#111" stroke="#111" stroke-width="0.3" >H2-Ab1</text>
<rect x="59.50" y="345.63" width="38.03" height="16.81" fill="#fb3a2a"/>
<rect x="97.53" y="345.63" width="38.03" height="16.81" fill="#fb3526"/>
<rect x="135.56" y="345.63" width="38.03" height="16.81" fill="#fb3a2a"/>
<rect x="173.59" y="345.63" width="38.03" height="16.81" fill="#fb3526"/>
<text x="55.3" y="357.93" font-size="10.6" text-anchor="end" font-weight="bold" font-style="italic" fill="#111" stroke="#111" stroke-width="0.3" >H2-Aa</text>
<rect x="59.50" y="362.44" width="38.03" height="16.81" fill="#fb6e62"/>
<rect x="97.53" y="362.44" width="38.03" height="16.81" fill="#fc9389"/>
<rect x="135.56" y="362.44" width="38.03" height="16.81" fill="#fb7f74"/>
<rect x="173.59" y="362.44" width="38.03" height="16.81" fill="#fc9a91"/>
<text x="55.3" y="374.74" font-size="10.6" text-anchor="end" font-weight="bold" font-style="italic" fill="#111" stroke="#111" stroke-width="0.3" >H2-DMa</text>
<rect x="59.50" y="379.25" width="38.03" height="16.81" fill="#fb8378"/>
<rect x="97.53" y="379.25" width="38.03" height="16.81" fill="#fca69e"/>
<rect x="135.56" y="379.25" width="38.03" height="16.81" fill="#fc9389"/>
<rect x="173.59" y="379.25" width="38.03" height="16.81" fill="#fcaaa3"/>
<text x="55.3" y="391.55" font-size="10.6" text-anchor="end" font-weight="bold" font-style="italic" fill="#111" stroke="#111" stroke-width="0.3" >H2-DMb1</text>
<rect x="59.50" y="396.06" width="38.03" height="16.81" fill="#fb5a4d"/>
<rect x="97.53" y="396.06" width="38.03" height="16.81" fill="#fb6a5e"/>
<rect x="135.56" y="396.06" width="38.03" height="16.81" fill="#fb8176"/>
<rect x="173.59" y="396.06" width="38.03" height="16.81" fill="#fb7468"/>
<text x="55.3" y="408.35999999999996" font-size="10.6" text-anchor="end" font-weight="bold" font-style="italic" fill="#111" stroke="#111" stroke-width="0.3" >H2-DMb2</text>
<rect x="59.50" y="412.87" width="38.03" height="16.81" fill="#fa2a15"/>
<rect x="97.53" y="412.87" width="38.03" height="16.81" fill="#fa3020"/>
<rect x="135.56" y="412.87" width="38.03" height="16.81" fill="#fa2a15"/>
<rect x="173.59" y="412.87" width="38.03" height="16.81" fill="#fa2e1c"/>
<text x="55.3" y="425.17" font-size="10.6" text-anchor="end" font-weight="bold" font-style="italic" fill="#111" stroke="#111" stroke-width="0.3" >Cd74</text>
<rect x="59.50" y="429.68" width="38.03" height="16.81" fill="#fcd2cd"/>
<rect x="97.53" y="429.68" width="38.03" height="16.81" fill="#fefafa"/>
<rect x="135.56" y="429.68" width="38.03" height="16.81" fill="#fcc7c1"/>
<rect x="173.59" y="429.68" width="38.03" height="16.81" fill="#fefcfc"/>
<text x="55.3" y="441.97999999999996" font-size="10.6" text-anchor="end" font-weight="bold" font-style="italic" fill="#111" stroke="#111" stroke-width="0.3" >March1</text>
<rect x="59.50" y="446.49" width="38.03" height="16.81" fill="#fde1de"/>
<rect x="97.53" y="446.49" width="38.03" height="16.81" fill="#fb8f86"/>
<rect x="135.56" y="446.49" width="38.03" height="16.81" fill="#fde1dd"/>
<rect x="173.59" y="446.49" width="38.03" height="16.81" fill="#fb8f86"/>
<text x="55.3" y="458.79" font-size="10.6" text-anchor="end" font-weight="bold" font-style="italic" fill="#111" stroke="#111" stroke-width="0.3" >Cd83</text>
<line x1="59.50" y1="295.2" x2="59.50" y2="463.30" stroke="#222" stroke-width="1.1"/>
<line x1="97.53" y1="295.2" x2="97.53" y2="463.30" stroke="#222" stroke-width="1.1"/>
<line x1="135.56" y1="295.2" x2="135.56" y2="463.30" stroke="#222" stroke-width="1.1"/>
<line x1="173.59" y1="295.2" x2="173.59" y2="463.30" stroke="#222" stroke-width="1.1"/>
<line x1="211.62" y1="295.2" x2="211.62" y2="463.30" stroke="#222" stroke-width="1.1"/>
<line x1="59.5" y1="295.20" x2="211.62" y2="295.20" stroke="#222" stroke-width="1.1"/>
<line x1="59.5" y1="312.01" x2="211.62" y2="312.01" stroke="#222" stroke-width="1.1"/>
<line x1="59.5" y1="328.82" x2="211.62" y2="328.82" stroke="#222" stroke-width="1.1"/>
<line x1="59.5" y1="345.63" x2="211.62" y2="345.63" stroke="#222" stroke-width="1.1"/>
<line x1="59.5" y1="362.44" x2="211.62" y2="362.44" stroke="#222" stroke-width="1.1"/>
<line x1="59.5" y1="379.25" x2="211.62" y2="379.25" stroke="#222" stroke-width="1.1"/>
<line x1="59.5" y1="396.06" x2="211.62" y2="396.06" stroke="#222" stroke-width="1.1"/>
<line x1="59.5" y1="412.87" x2="211.62" y2="412.87" stroke="#222" stroke-width="1.1"/>
<line x1="59.5" y1="429.68" x2="211.62" y2="429.68" stroke="#222" stroke-width="1.1"/>
<line x1="59.5" y1="446.49" x2="211.62" y2="446.49" stroke="#222" stroke-width="1.1"/>
<line x1="59.5" y1="463.30" x2="211.62" y2="463.30" stroke="#222" stroke-width="1.1"/>
<defs><linearGradient id="cb" x1="0" y1="1" x2="0" y2="0"><stop offset="0" stop-color="#0a1aff"/><stop offset="0.5" stop-color="#ffffff"/><stop offset="1" stop-color="#ee2418"/></linearGradient></defs>
<rect x="222" y="296.3" width="13.2" height="167" fill="url(#cb)" stroke="#111" stroke-width="1.6"/>
<line x1="221.5" y1="323.3" x2="224" y2="323.3" stroke="#111" stroke-width="1.4"/>
<line x1="233.2" y1="323.3" x2="235.7" y2="323.3" stroke="#111" stroke-width="1.4"/>
<text x="242.8" y="328.3" font-size="13" text-anchor="start" font-weight="normal" font-style="normal" fill="#1a1a1a" stroke="#1a1a1a" stroke-width="0.3" >15</text>
<line x1="221.5" y1="389.6" x2="224" y2="389.6" stroke="#111" stroke-width="1.4"/>
<line x1="233.2" y1="389.6" x2="235.7" y2="389.6" stroke="#111" stroke-width="1.4"/>
<text x="242.8" y="394.6" font-size="13" text-anchor="start" font-weight="normal" font-style="normal" fill="#1a1a1a" stroke="#1a1a1a" stroke-width="0.3" >10</text>
<line x1="221.5" y1="457.6" x2="224" y2="457.6" stroke="#111" stroke-width="1.4"/>
<line x1="233.2" y1="457.6" x2="235.7" y2="457.6" stroke="#111" stroke-width="1.4"/>
<text x="242.8" y="462.6" font-size="13" text-anchor="start" font-weight="normal" font-style="normal" fill="#1a1a1a" stroke="#1a1a1a" stroke-width="0.3" >5</text>
<text transform="translate(275.2,252.8) scale(0.86,1)" font-size="16.5" fill="#111" stroke="#111" stroke-width="0.2">D</text>
<text x="369" y="250.5" font-size="12" text-anchor="middle" font-weight="normal" font-style="normal" fill="#1a1a1a" stroke="#1a1a1a" stroke-width="0.3" >Immature</text>
<text x="449" y="250.4" font-size="12" text-anchor="middle" font-weight="normal" font-style="normal" fill="#1a1a1a" stroke="#1a1a1a" stroke-width="0.3" >Mature</text>
<text x="275" y="301.2" font-size="12" text-anchor="start" fill="#1a1a1a" stroke="#1a1a1a" stroke-width="0.3">Sirpα<tspan font-size="7.4" dx="0.8" dy="-4.8">+</tspan></text>
<text x="277" y="383" font-size="12" text-anchor="start" fill="#1a1a1a" stroke="#1a1a1a" stroke-width="0.3">CD8<tspan font-size="7.4" dx="0.8" dy="-4.8">+</tspan></text>
<line x1="318.8" y1="260" x2="318.8" y2="359.3" stroke="#111" stroke-width="1.4"/>
<polygon points="318.8,255 315.5,261 322.1,261" fill="#111"/>
<text transform="translate(323,385) rotate(-90)" font-size="12" text-anchor="middle" fill="#1a1a1a" stroke="#1a1a1a" stroke-width="0.3">% max</text>
<rect x="333.8" y="254.6" width="77.39999999999998" height="77.4" fill="#fff" stroke="#b8b8b8" stroke-width="0.8"/>
<clipPath id="cD11"><rect x="333.8" y="254.6" width="77.39999999999998" height="77.4"/></clipPath>
<g clip-path="url(#cD11)">
<polygon points="339.54,332.0 339.54,332.00 341.24,325.51 342.95,316.98 344.32,303.32 345.51,282.83 346.37,269.17 347.22,267.46 348.07,259.78 348.93,269.17 349.78,259.78 350.63,267.46 351.49,276.00 352.34,281.12 353.20,291.36 354.05,301.61 354.90,310.15 355.76,316.98 357.46,320.39 359.17,323.80 360.88,328.07 362.59,330.63 365.15,332.00 365.15,332.0" fill="#a2a2a2" stroke="#6a6a6a" stroke-width="0.6"/>
<polyline points="333.80,332.00 339.54,332.00 344.66,331.49 347.22,329.78 349.78,323.80 352.34,316.98 354.05,310.15 355.76,306.73 357.46,301.61 358.66,293.07 360.03,289.66 361.39,277.71 362.59,272.58 363.44,269.17 364.63,259.78 365.66,264.05 366.51,267.46 367.71,272.58 368.90,277.71 370.27,286.24 371.64,286.24 372.83,289.66 374.20,285.39 375.39,287.95 376.25,294.78 377.44,303.32 378.81,311.85 380.51,318.68 382.22,323.80 383.93,328.07 385.64,330.98 389.05,331.49 395.88,332.00 411.20,332.00" fill="none" stroke="#000" stroke-width="1.5" stroke-linejoin="round"/>
</g>
<line x1="333.8" y1="332.0" x2="411.2" y2="332.0" stroke="#222" stroke-width="1.3"/>
<line x1="331.8" y1="332.00" x2="333.8" y2="332.00" stroke="#666" stroke-width="0.8"/>
<text x="331.5" y="333.3" font-size="3.6" text-anchor="end" font-weight="normal" font-style="normal" fill="#444" stroke="#444" stroke-width="0.3" letter-spacing="-0.25">0</text>
<line x1="331.8" y1="317.30" x2="333.8" y2="317.30" stroke="#666" stroke-width="0.8"/>
<text x="331.5" y="318.6" font-size="3.6" text-anchor="end" font-weight="normal" font-style="normal" fill="#444" stroke="#444" stroke-width="0.3" letter-spacing="-0.25">20</text>
<line x1="331.8" y1="302.60" x2="333.8" y2="302.60" stroke="#666" stroke-width="0.8"/>
<text x="331.5" y="303.90000000000003" font-size="3.6" text-anchor="end" font-weight="normal" font-style="normal" fill="#444" stroke="#444" stroke-width="0.3" letter-spacing="-0.25">40</text>
<line x1="331.8" y1="287.90" x2="333.8" y2="287.90" stroke="#666" stroke-width="0.8"/>
<text x="331.5" y="289.2" font-size="3.6" text-anchor="end" font-weight="normal" font-style="normal" fill="#444" stroke="#444" stroke-width="0.3" letter-spacing="-0.25">60</text>
<line x1="331.8" y1="273.20" x2="333.8" y2="273.20" stroke="#666" stroke-width="0.8"/>
<text x="331.5" y="274.5" font-size="3.6" text-anchor="end" font-weight="normal" font-style="normal" fill="#444" stroke="#444" stroke-width="0.3" letter-spacing="-0.25">80</text>
<line x1="331.8" y1="258.50" x2="333.8" y2="258.50" stroke="#666" stroke-width="0.8"/>
<text x="331.5" y="259.8" font-size="3.6" text-anchor="end" font-weight="normal" font-style="normal" fill="#444" stroke="#444" stroke-width="0.3" letter-spacing="-0.25">100</text>
<rect x="414.8" y="254.6" width="77.39999999999998" height="77.4" fill="#fff" stroke="#b8b8b8" stroke-width="0.8"/>
<clipPath id="cD12"><rect x="414.8" y="254.6" width="77.39999999999998" height="77.4"/></clipPath>
<g clip-path="url(#cD12)">
<polygon points="418.83,332.0 418.83,332.00 420.54,327.22 422.24,320.39 423.95,308.44 425.32,298.19 426.51,286.24 427.71,274.29 428.56,264.05 429.07,259.78 430.44,262.34 431.63,262.34 432.83,267.46 434.20,272.58 435.39,277.71 436.76,286.24 437.61,296.49 438.81,303.32 440.17,311.85 441.88,316.98 443.59,323.80 445.29,328.07 447.85,332.00 447.85,332.0" fill="#a2a2a2" stroke="#6a6a6a" stroke-width="0.6"/>
<polyline points="414.80,332.00 429.07,332.00 431.63,330.63 434.20,327.22 436.76,322.10 438.98,315.27 440.68,306.73 441.88,298.19 443.07,289.66 444.10,279.41 445.29,269.17 446.15,264.05 447.51,261.49 448.71,262.34 449.90,259.78 451.27,260.63 452.46,262.34 453.32,265.75 454.34,272.58 455.54,281.12 456.39,286.24 457.76,293.07 458.95,299.90 460.32,306.73 461.51,311.85 462.88,316.98 464.59,322.10 466.29,327.22 468.34,330.63 470.90,332.00 492.20,332.00" fill="none" stroke="#000" stroke-width="1.5" stroke-linejoin="round"/>
</g>
<line x1="414.8" y1="332.0" x2="492.2" y2="332.0" stroke="#222" stroke-width="1.3"/>
<rect x="333.8" y="336.5" width="77.39999999999998" height="77.39999999999998" fill="#fff" stroke="#b8b8b8" stroke-width="0.8"/>
<clipPath id="cD21"><rect x="333.8" y="336.5" width="77.39999999999998" height="77.39999999999998"/></clipPath>
<g clip-path="url(#cD21)">
<polygon points="340.39,413.9 340.39,413.90 342.10,409.12 343.29,398.88 344.66,381.80 346.02,363.02 347.22,349.36 348.42,340.83 349.44,345.95 350.63,351.07 351.83,364.73 352.85,378.39 354.05,392.05 355.24,400.58 356.61,405.70 358.32,410.83 360.88,413.90 360.88,413.9" fill="#a2a2a2" stroke="#6a6a6a" stroke-width="0.6"/>
<polyline points="334.07,413.90 341.24,413.90 343.81,412.53 346.37,409.12 348.93,402.29 350.63,388.63 351.83,376.68 352.85,366.44 354.05,356.19 355.24,352.78 356.61,347.65 357.98,344.24 358.83,340.83 360.03,345.95 361.39,351.07 362.07,359.61 363.10,368.14 364.29,376.68 365.66,383.51 367.20,388.63 368.56,393.75 369.93,398.88 371.64,404.00 373.68,409.12 376.25,411.68 379.66,412.88 383.93,413.39 411.20,413.90" fill="none" stroke="#000" stroke-width="1.5" stroke-linejoin="round"/>
</g>
<line x1="333.8" y1="413.9" x2="411.2" y2="413.9" stroke="#222" stroke-width="1.3"/>
<line x1="331.8" y1="413.90" x2="333.8" y2="413.90" stroke="#666" stroke-width="0.8"/>
<text x="331.5" y="415.2" font-size="3.6" text-anchor="end" font-weight="normal" font-style="normal" fill="#444" stroke="#444" stroke-width="0.3" letter-spacing="-0.25">0</text>
<line x1="331.8" y1="399.20" x2="333.8" y2="399.20" stroke="#666" stroke-width="0.8"/>
<text x="331.5" y="400.5" font-size="3.6" text-anchor="end" font-weight="normal" font-style="normal" fill="#444" stroke="#444" stroke-width="0.3" letter-spacing="-0.25">20</text>
<line x1="331.8" y1="384.50" x2="333.8" y2="384.50" stroke="#666" stroke-width="0.8"/>
<text x="331.5" y="385.8" font-size="3.6" text-anchor="end" font-weight="normal" font-style="normal" fill="#444" stroke="#444" stroke-width="0.3" letter-spacing="-0.25">40</text>
<line x1="331.8" y1="369.80" x2="333.8" y2="369.80" stroke="#666" stroke-width="0.8"/>
<text x="331.5" y="371.09999999999997" font-size="3.6" text-anchor="end" font-weight="normal" font-style="normal" fill="#444" stroke="#444" stroke-width="0.3" letter-spacing="-0.25">60</text>
<line x1="331.8" y1="355.10" x2="333.8" y2="355.10" stroke="#666" stroke-width="0.8"/>
<text x="331.5" y="356.4" font-size="3.6" text-anchor="end" font-weight="normal" font-style="normal" fill="#444" stroke="#444" stroke-width="0.3" letter-spacing="-0.25">80</text>
<line x1="331.8" y1="340.40" x2="333.8" y2="340.40" stroke="#666" stroke-width="0.8"/>
<text x="331.5" y="341.7" font-size="3.6" text-anchor="end" font-weight="normal" font-style="normal" fill="#444" stroke="#444" stroke-width="0.3" letter-spacing="-0.25">100</text>
<line x1="343.17" y1="413.9" x2="343.17" y2="415.9" stroke="#666" stroke-width="0.8"/>
<text x="343.16540000000003" y="420.4" font-size="3.8" text-anchor="middle" font-weight="normal" font-style="normal" fill="#555" stroke="#555" stroke-width="0.3" >0</text>
<line x1="350.21" y1="413.9" x2="350.21" y2="415.9" stroke="#666" stroke-width="0.8"/>
<text x="350.2088" y="420.4" font-size="3.8" text-anchor="middle" font-weight="normal" font-style="normal" fill="#555" stroke="#555" stroke-width="0.3" >10²</text>
<line x1="368.94" y1="413.9" x2="368.94" y2="415.9" stroke="#666" stroke-width="0.8"/>
<text x="368.9396" y="420.4" font-size="3.8" text-anchor="middle" font-weight="normal" font-style="normal" fill="#555" stroke="#555" stroke-width="0.3" >10³</text>
<line x1="387.05" y1="413.9" x2="387.05" y2="415.9" stroke="#666" stroke-width="0.8"/>
<text x="387.0512" y="420.4" font-size="3.8" text-anchor="middle" font-weight="normal" font-style="normal" fill="#555" stroke="#555" stroke-width="0.3" >10⁴</text>
<line x1="404.54" y1="413.9" x2="404.54" y2="415.9" stroke="#666" stroke-width="0.8"/>
<text x="404.54359999999997" y="420.4" font-size="3.8" text-anchor="middle" font-weight="normal" font-style="normal" fill="#555" stroke="#555" stroke-width="0.3" >10⁵</text>
<rect x="414.8" y="336.5" width="77.39999999999998" height="77.39999999999998" fill="#fff" stroke="#b8b8b8" stroke-width="0.8"/>
<clipPath id="cD22"><rect x="414.8" y="336.5" width="77.39999999999998" height="77.39999999999998"/></clipPath>
<g clip-path="url(#cD22)">
<polygon points="419.68,413.9 419.68,413.90 421.39,407.41 423.10,398.88 424.81,385.22 426.00,371.56 427.02,364.73 428.22,352.78 429.42,345.95 430.78,341.68 432.15,345.95 433.34,349.36 434.54,352.78 435.56,359.61 436.42,369.85 437.61,383.51 438.98,393.75 440.17,400.58 441.88,405.70 443.59,410.83 446.15,413.90 446.15,413.9" fill="#a2a2a2" stroke="#6a6a6a" stroke-width="0.6"/>
<polyline points="415.07,413.90 420.54,413.90 423.95,413.39 427.37,410.83 430.78,404.00 433.34,393.75 434.54,385.22 435.90,374.97 437.61,361.31 438.98,356.19 440.17,352.78 441.03,357.90 441.88,349.36 443.07,344.24 443.76,340.83 444.78,351.07 445.63,356.19 446.66,351.07 447.85,359.61 449.22,363.02 450.42,368.14 451.61,374.97 452.98,380.09 454.34,388.63 456.05,395.46 457.76,402.29 459.81,407.41 462.37,411.68 464.93,413.39 492.20,413.90" fill="none" stroke="#000" stroke-width="1.5" stroke-linejoin="round"/>
</g>
<line x1="414.8" y1="413.9" x2="492.2" y2="413.9" stroke="#222" stroke-width="1.3"/>
<line x1="424.17" y1="413.9" x2="424.17" y2="415.9" stroke="#666" stroke-width="0.8"/>
<text x="424.16540000000003" y="420.4" font-size="3.8" text-anchor="middle" font-weight="normal" font-style="normal" fill="#555" stroke="#555" stroke-width="0.3" >0</text>
<line x1="431.21" y1="413.9" x2="431.21" y2="415.9" stroke="#666" stroke-width="0.8"/>
<text x="431.2088" y="420.4" font-size="3.8" text-anchor="middle" font-weight="normal" font-style="normal" fill="#555" stroke="#555" stroke-width="0.3" >10²</text>
<line x1="449.94" y1="413.9" x2="449.94" y2="415.9" stroke="#666" stroke-width="0.8"/>
<text x="449.9396" y="420.4" font-size="3.8" text-anchor="middle" font-weight="normal" font-style="normal" fill="#555" stroke="#555" stroke-width="0.3" >10³</text>
<line x1="468.05" y1="413.9" x2="468.05" y2="415.9" stroke="#666" stroke-width="0.8"/>
<text x="468.0512" y="420.4" font-size="3.8" text-anchor="middle" font-weight="normal" font-style="normal" fill="#555" stroke="#555" stroke-width="0.3" >10⁴</text>
<line x1="485.54" y1="413.9" x2="485.54" y2="415.9" stroke="#666" stroke-width="0.8"/>
<text x="485.54359999999997" y="420.4" font-size="3.8" text-anchor="middle" font-weight="normal" font-style="normal" fill="#555" stroke="#555" stroke-width="0.3" >10⁵</text>
<text x="413" y="437.0" font-size="12" text-anchor="middle" font-weight="normal" font-style="normal" fill="#1a1a1a" stroke="#1a1a1a" stroke-width="0.3" >YAe</text>
<rect x="550.60" y="321.60" width="16.10" height="85.20" fill="#fff" stroke="#000" stroke-width="2.0"/>
<line x1="581.0" y1="294.8262" x2="581.0" y2="290.17" stroke="#000" stroke-width="1.6"/>
<line x1="575.74" y1="290.17" x2="586.26" y2="290.17" stroke="#000" stroke-width="1.6"/>
<rect x="571.6" y="294.83" width="18.80" height="111.97" fill="#000"/>
<line x1="609.3" y1="380.6814" x2="609.3" y2="376.11" stroke="#000" stroke-width="1.6"/>
<line x1="604.43" y1="376.11" x2="614.17" y2="376.11" stroke="#000" stroke-width="1.6"/>
<rect x="601.60" y="381.68" width="15.40" height="25.12" fill="#fff" stroke="#000" stroke-width="2.0"/>
<line x1="632.35" y1="342.7534" x2="632.35" y2="334.39" stroke="#000" stroke-width="1.6"/>
<line x1="627.17" y1="334.39" x2="637.53" y2="334.39" stroke="#000" stroke-width="1.6"/>
<rect x="623.1" y="342.75" width="18.50" height="64.05" fill="#000"/>
<line x1="595.3" y1="277.5" x2="595.3" y2="406.8" stroke="#222" stroke-width="1.0" stroke-dasharray="1.3,1.1"/>
<line x1="543.8" y1="277.50" x2="543.8" y2="407.8" stroke="#000" stroke-width="1.9"/>
<line x1="542.8" y1="406.8" x2="644.5" y2="406.8" stroke="#000" stroke-width="1.9"/>
<line x1="538.8" y1="406.80" x2="543.8" y2="406.80" stroke="#000" stroke-width="1.6"/>
<text x="538.3" y="410.0" font-size="8.7" text-anchor="end" font-weight="normal" font-style="normal" fill="#222" stroke="#222" stroke-width="0.3" letter-spacing="-0.3">0</text>
<line x1="538.8" y1="363.70" x2="543.8" y2="363.70" stroke="#000" stroke-width="1.6"/>
<text x="538.3" y="366.9" font-size="8.7" text-anchor="end" font-weight="normal" font-style="normal" fill="#222" stroke="#222" stroke-width="0.3" letter-spacing="-0.3">50</text>
<line x1="538.8" y1="320.60" x2="543.8" y2="320.60" stroke="#000" stroke-width="1.6"/>
<text x="538.3" y="323.8" font-size="8.7" text-anchor="end" font-weight="normal" font-style="normal" fill="#222" stroke="#222" stroke-width="0.3" letter-spacing="-0.3">100</text>
<line x1="538.8" y1="277.50" x2="543.8" y2="277.50" stroke="#000" stroke-width="1.6"/>
<text x="538.3" y="280.7" font-size="8.7" text-anchor="end" font-weight="normal" font-style="normal" fill="#222" stroke="#222" stroke-width="0.3" letter-spacing="-0.3">150</text>
<text transform="translate(521,342) rotate(-90)" font-size="10" text-anchor="middle" fill="#1a1a1a" stroke="#1a1a1a" stroke-width="0.3">YAe&#160;&#160;(Relative gMFI)</text>
<text x="556.6" y="264" font-size="12" text-anchor="start" fill="#1a1a1a" stroke="#1a1a1a" stroke-width="0.3">Sirpα<tspan font-size="7.4" dx="0.8" dy="-4.8">+</tspan></text>
<text x="609.7" y="264.5" font-size="12" text-anchor="start" fill="#1a1a1a" stroke="#1a1a1a" stroke-width="0.3">CD8<tspan font-size="7.4" dx="0.8" dy="-4.8">+</tspan></text>
<path d="M564.00,277.70L564.00,273.80M564.00,277.70L567.71,276.49M564.00,277.70L566.29,280.86M564.00,277.70L561.71,280.86M564.00,277.70L560.29,276.49" stroke="#111" stroke-width="1.85" stroke-linecap="butt" fill="none"/>
<path d="M572.40,277.70L572.40,273.80M572.40,277.70L576.11,276.49M572.40,277.70L574.69,280.86M572.40,277.70L570.11,280.86M572.40,277.70L568.69,276.49" stroke="#111" stroke-width="1.85" stroke-linecap="butt" fill="none"/>
<line x1="556" y1="284.8" x2="582" y2="284.8" stroke="#000" stroke-width="1.5"/>
<path d="M623.50,318.20L623.50,314.30M623.50,318.20L627.21,316.99M623.50,318.20L625.79,321.36M623.50,318.20L621.21,321.36M623.50,318.20L619.79,316.99" stroke="#111" stroke-width="1.85" stroke-linecap="butt" fill="none"/>
<line x1="608.4" y1="325.9" x2="632.7" y2="325.9" stroke="#000" stroke-width="1.5"/>
<rect x="558.0999999999999" y="410.8" width="14.4" height="9.6" fill="#fff" stroke="#000" stroke-width="1.6"/>
<text x="580.2" y="420.3" font-size="12.2" text-anchor="start" font-weight="normal" font-style="normal" fill="#1a1a1a" stroke="#1a1a1a" stroke-width="0.3" >Immature</text>
<rect x="557.3" y="426.0" width="16" height="11.6" fill="black"/>
<text x="580.2" y="435.8" font-size="12.2" text-anchor="start" font-weight="normal" font-style="normal" fill="#1a1a1a" stroke="#1a1a1a" stroke-width="0.3" >Mature</text>
<text transform="translate(666.6,253) scale(0.73,1)" font-size="17" fill="#111" stroke="#111" stroke-width="0.2">E</text>
<rect x="707.3000000000001" y="388.09" width="20.30" height="16.71" fill="#8c8c8c"/>
<line x1="742.8" y1="321.26666666666665" x2="742.8" y2="297.04" stroke="#000" stroke-width="1.6"/>
<line x1="737.65" y1="297.04" x2="747.95" y2="297.04" stroke="#000" stroke-width="1.6"/>
<rect x="734.60" y="322.27" width="16.40" height="82.53" fill="#fff" stroke="#000" stroke-width="2.0"/>
<line x1="767.75" y1="315.4193333333334" x2="767.75" y2="308.74" stroke="#000" stroke-width="1.6"/>
<line x1="762.63" y1="308.74" x2="772.87" y2="308.74" stroke="#000" stroke-width="1.6"/>
<rect x="758.6" y="315.42" width="18.30" height="89.38" fill="#000"/>
<line x1="700.6" y1="279.50" x2="700.6" y2="405.8" stroke="#000" stroke-width="1.9"/>
<line x1="699.6" y1="404.8" x2="784" y2="404.8" stroke="#000" stroke-width="1.9"/>
<line x1="695.6" y1="404.80" x2="700.6" y2="404.80" stroke="#000" stroke-width="1.6"/>
<text x="695.1" y="408.0" font-size="9.6" text-anchor="end" font-weight="normal" font-style="normal" fill="#222" stroke="#222" stroke-width="0.3" letter-spacing="-0.3">0</text>
<line x1="695.6" y1="363.03" x2="700.6" y2="363.03" stroke="#000" stroke-width="1.6"/>
<text x="695.1" y="366.23333333333335" font-size="9.6" text-anchor="end" font-weight="normal" font-style="normal" fill="#222" stroke="#222" stroke-width="0.3" letter-spacing="-0.3">10</text>
<line x1="695.6" y1="321.27" x2="700.6" y2="321.27" stroke="#000" stroke-width="1.6"/>
<text x="695.1" y="324.46666666666664" font-size="9.6" text-anchor="end" font-weight="normal" font-style="normal" fill="#222" stroke="#222" stroke-width="0.3" letter-spacing="-0.3">20</text>
<line x1="695.6" y1="279.50" x2="700.6" y2="279.50" stroke="#000" stroke-width="1.6"/>
<text x="695.1" y="282.7" font-size="9.6" text-anchor="end" font-weight="normal" font-style="normal" fill="#222" stroke="#222" stroke-width="0.3" letter-spacing="-0.3">30</text>
<line x1="717.5" y1="404.8" x2="717.5" y2="409.7" stroke="#000" stroke-width="1.6"/>
<line x1="742.8" y1="404.8" x2="742.8" y2="409.7" stroke="#000" stroke-width="1.6"/>
<line x1="767.7" y1="404.8" x2="767.7" y2="409.7" stroke="#000" stroke-width="1.6"/>
<text transform="translate(675.6,338.5) rotate(-90)" font-size="12" text-anchor="middle" fill="#1a1a1a" stroke="#1a1a1a" stroke-width="0.3">CD69<tspan font-size="7.5" dy="-4.5">+</tspan><tspan dy="4.5"> (%)</tspan></text>
<rect x="681.5" y="419.6" width="16.5" height="13.4" fill="#8c8c8c"/>
<text x="706.5" y="430.3" font-size="12.2" text-anchor="start" font-weight="normal" font-style="normal" fill="#1a1a1a" stroke="#1a1a1a" stroke-width="0.3" >Thymocyte only</text>
<rect x="682.0999999999999" y="441.8" width="15.799999999999999" height="11.6" fill="#fff" stroke="#000" stroke-width="1.6"/>
<text x="706.5" y="451.8" font-size="12.1" text-anchor="start" font-weight="normal" font-style="normal" fill="#1a1a1a" stroke="#1a1a1a" stroke-width="0.3" >+ immature tDC</text>
<rect x="681.5" y="465.5" width="16.5" height="13.2" fill="black"/>
<text x="706.5" y="476.0" font-size="12.1" text-anchor="start" font-weight="normal" font-style="normal" fill="#1a1a1a" stroke="#1a1a1a" stroke-width="0.3" >+ mature tDC</text></svg></body></html>
